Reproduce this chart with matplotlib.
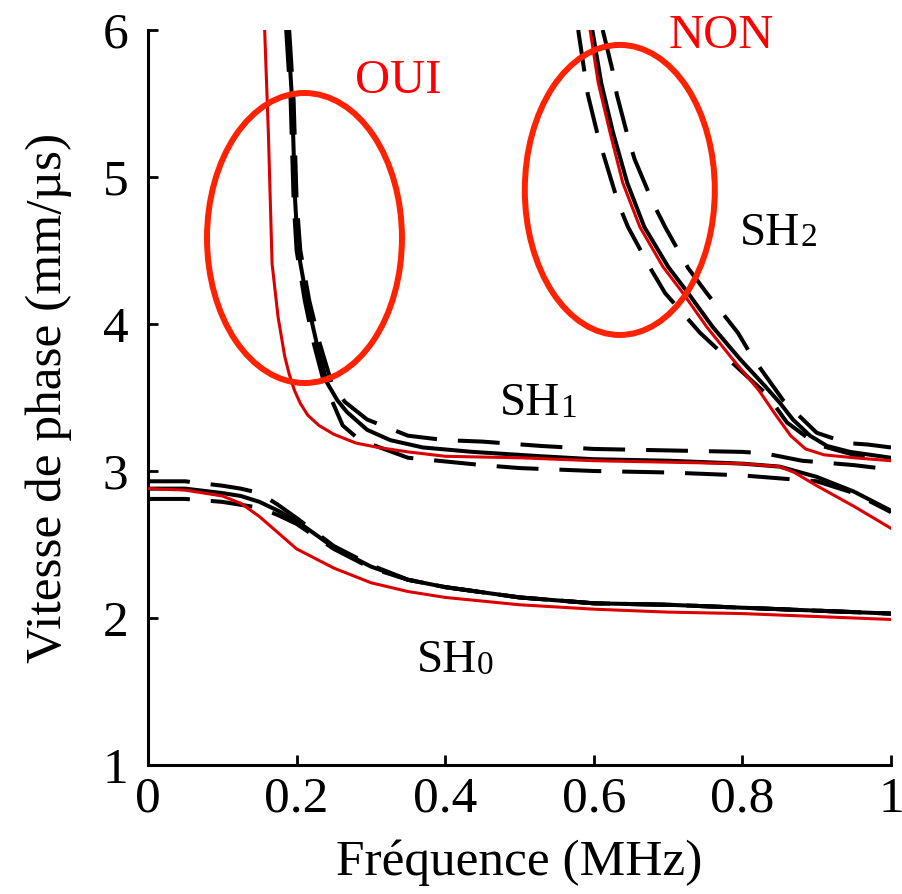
import matplotlib
matplotlib.use("Agg")
import matplotlib.pyplot as plt
from matplotlib.patches import Ellipse

plt.rcParams['font.family'] = ['Liberation Serif', 'DejaVu Serif']

# ---------------- data ----------------
# SH0
sh0_f = [0, 0.05, 0.1, 0.125, 0.15, 0.175, 0.2, 0.25, 0.3, 0.35, 0.4, 0.5, 0.6, 0.7, 0.8, 0.9, 1.0]
sh0_black = [2.88, 2.88, 2.85, 2.83, 2.79, 2.73, 2.66, 2.48, 2.35, 2.26, 2.21, 2.14, 2.10, 2.09, 2.07, 2.05, 2.03]
sh0_up = [2.93, 2.93, 2.90, 2.88, 2.85, 2.77, 2.68, 2.49, 2.36, 2.26, 2.21, 2.14, 2.10, 2.09, 2.07, 2.05, 2.03]
sh0_low = [2.81, 2.81, 2.79, 2.77, 2.75, 2.70, 2.64, 2.47, 2.34, 2.26, 2.21, 2.14, 2.10, 2.09, 2.07, 2.05, 2.03]
sh0_red = [2.88, 2.87, 2.83, 2.78, 2.69, 2.58, 2.47, 2.34, 2.24, 2.18, 2.14, 2.09, 2.06, 2.04, 2.03, 2.01, 1.99]

# SH1
sh1_red_f = [0.157, 0.162, 0.167, 0.175, 0.184, 0.19, 0.197, 0.205, 0.215, 0.23, 0.25, 0.28, 0.31,
             0.35, 0.4, 0.5, 0.55, 0.6, 0.7, 0.8, 0.85, 0.87, 0.9, 0.95, 1.0]
sh1_red = [6.0, 5.3, 4.41, 4.05, 3.78, 3.66, 3.55, 3.46, 3.38, 3.31, 3.25, 3.19, 3.16,
           3.13, 3.10, 3.09, 3.08, 3.07, 3.06, 3.05, 3.03, 2.99, 2.90, 2.76, 2.61]
sh1_black_f = [0.188, 0.194, 0.198, 0.202, 0.214, 0.227, 0.241, 0.255, 0.268, 0.295, 0.326, 0.37,
               0.437, 0.53, 0.6, 0.7, 0.8, 0.85, 0.9, 0.95, 1.0]
sh1_black = [6.0, 5.52, 4.84, 4.50, 4.16, 3.87, 3.60, 3.48, 3.40, 3.28, 3.21, 3.16,
             3.13, 3.10, 3.08, 3.07, 3.05, 3.03, 2.96, 2.86, 2.73]
sh1_up_f = [0.19, 0.196, 0.2, 0.205, 0.217, 0.231, 0.247, 0.265, 0.295, 0.35, 0.4, 0.45, 0.53,
            0.6, 0.7, 0.8, 0.83, 0.88, 0.95, 1.0]
sh1_up = [6.0, 5.52, 4.84, 4.50, 4.16, 3.87, 3.60, 3.47, 3.35, 3.24, 3.21, 3.20, 3.17,
          3.15, 3.14, 3.13, 3.12, 3.07, 3.04, 3.01]
sh1_low_f = [0.186, 0.192, 0.196, 0.2, 0.211, 0.223, 0.237, 0.25, 0.262, 0.285, 0.35, 0.41, 0.45,
             0.5, 0.6, 0.7, 0.8, 0.85, 0.9, 0.95, 1.0]
sh1_low = [6.0, 5.52, 4.84, 4.50, 4.16, 3.87, 3.60, 3.45, 3.31, 3.21, 3.09, 3.06, 3.04,
           3.02, 3.00, 2.99, 2.97, 2.95, 2.93, 2.85, 2.72]

# SH2
sh2_red_f = [0.595, 0.606, 0.622, 0.639, 0.662, 0.693, 0.720, 0.752, 0.787, 0.822, 0.845, 0.865,
             0.885, 0.91, 0.95, 1.0]
sh2_red = [6.0, 5.64, 5.30, 4.96, 4.66, 4.39, 4.21, 3.98, 3.76, 3.55, 3.38, 3.24,
           3.15, 3.11, 3.09, 3.07]
sh2_black_f = [0.598, 0.61, 0.626, 0.645, 0.668, 0.70, 0.727, 0.76, 0.797, 0.83, 0.851, 0.868,
               0.891, 0.914, 0.945, 1.0]
sh2_black = [6.0, 5.64, 5.30, 4.96, 4.66, 4.39, 4.21, 3.98, 3.76, 3.58, 3.46, 3.35,
             3.24, 3.17, 3.13, 3.09]
sh2_low_f = [0.579, 0.592, 0.606, 0.615, 0.633, 0.646, 0.676, 0.696, 0.743, 0.777, 0.833, 0.86,
             0.9, 0.95, 1.0]
sh2_low = [6.0, 5.56, 5.27, 5.12, 4.82, 4.66, 4.38, 4.21, 3.94, 3.78, 3.52, 3.33,
           3.18, 3.11, 3.08]
sh2_up_f = [0.612, 0.625, 0.631, 0.646, 0.655, 0.680, 0.696, 0.727, 0.752, 0.794, 0.814, 0.855,
            0.900, 0.941, 0.969, 1.0]
sh2_up = [6.0, 5.73, 5.56, 5.27, 5.12, 4.82, 4.66, 4.38, 4.21, 3.94, 3.77, 3.48,
          3.26, 3.19, 3.18, 3.16]

x_ticks = [0, 0.2, 0.4, 0.6, 0.8, 1]
x_ticklabels = ['0', '0.2', '0.4', '0.6', '0.8', '1']
y_ticks = [1, 2, 3, 4, 5, 6]

# ellipses: (center f, center v, width f, height v)
ell_specs = [(0.2106, 4.585, 0.2624, 1.973), (0.635, 4.912, 0.2557, 1.973)]

# ---------------- figure ----------------
fig = plt.figure(figsize=(9.03, 8.94), dpi=100)
ax = fig.add_axes([148 / 903, 1 - 765 / 894, (891 - 148) / 903, (765 - 30) / 894])

lw_b = 2.9
lw_r = 2.2
dash = (10.4, 5.2)
red = '#dd0000'

def dashed(f, v):
    ax.plot(f, v, color='black', lw=lw_b, dashes=dash, zorder=2)

dashed(sh0_f, sh0_up)
dashed(sh0_f, sh0_low)
dashed(sh1_up_f, sh1_up)
dashed(sh1_low_f, sh1_low)
dashed(sh2_up_f, sh2_up)
dashed(sh2_low_f, sh2_low)

ax.plot(sh0_f, sh0_black, color='black', lw=lw_b, zorder=3)
ax.plot(sh1_black_f, sh1_black, color='black', lw=lw_b, zorder=3)
ax.plot(sh2_black_f, sh2_black, color='black', lw=lw_b, zorder=3)

ax.plot(sh0_f, sh0_red, color=red, lw=lw_r, zorder=4)
ax.plot(sh1_red_f, sh1_red, color=red, lw=lw_r, zorder=4)
ax.plot(sh2_red_f, sh2_red, color=red, lw=lw_r, zorder=4)

for cx, cy, w, h in ell_specs:
    ax.add_patch(Ellipse((cx, cy), w, h, fill=False, edgecolor='#ff2200', lw=4.3, zorder=5))

ax.set_xlim(0, 1)
ax.set_ylim(1, 6)
ax.set_xticks(x_ticks)
ax.set_xticklabels(x_ticklabels)
ax.set_yticks(y_ticks)
for s in ['top', 'right']:
    ax.spines[s].set_visible(False)
for s in ['left', 'bottom']:
    ax.spines[s].set_linewidth(2.2)
ax.tick_params(direction='in', length=7, width=2, labelsize=37)
ax.tick_params(axis='x', pad=8)
ax.tick_params(axis='y', pad=14)

ax.set_xlabel('Fréquence (MHz)', fontsize=37, labelpad=12)
ax.set_ylabel('Vitesse de phase (mm/µs)', fontsize=37, labelpad=22)

def sh_label(x, y, digit):
    t = ax.text(x, y, 'SH', fontsize=34, va='baseline', ha='left', zorder=6)
    ax.annotate(digit, xy=(1, 0), xycoords=t, fontsize=24, va='bottom', ha='left',
                xytext=(0, 1), textcoords='offset points')

sh_label(0.474, 3.38, '1')
sh_label(0.797, 4.54, '2')
sh_label(0.362, 1.63, '0')

ax.text(0.337, 5.57, 'OUI', color='#ff0000', fontsize=35, ha='center', va='baseline')
ax.text(0.771, 5.88, 'NON', color='#ff0000', fontsize=35, ha='center', va='baseline')

fig.savefig('out.png', dpi=100)
